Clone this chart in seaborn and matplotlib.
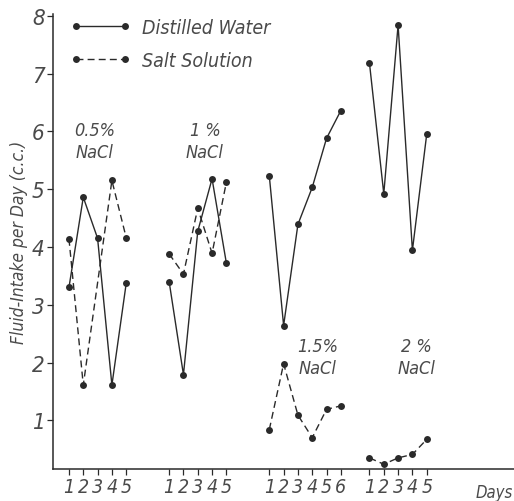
import numpy as np
import pandas as pd
import seaborn as sns
import matplotlib.pyplot as plt
from matplotlib.lines import Line2D
from matplotlib import transforms

# fluid intake per day (c.c.)
days_05 = [1, 2, 3, 4, 5]
water_05 = [3.30, 4.86, 4.15, 1.61, 3.37]
salt_05 = [4.14, 1.61, np.nan, 5.15, 4.16]

days_1 = [1, 2, 3, 4, 5]
water_1 = [3.40, 1.79, 4.27, 5.18, 3.72]
salt_1 = [3.88, 3.53, 4.67, 3.89, 5.12]

days_15 = [1, 2, 3, 4, 5, 6]
water_15 = [5.23, 2.64, 4.39, 5.03, 5.88, 6.36]
salt_15 = [0.84, 1.98, 1.09, 0.70, 1.19, 1.25]

days_2 = [1, 2, 3, 4, 5]
water_2 = [7.18, 4.92, 7.84, 3.94, 5.95]
salt_2 = [0.35, 0.24, 0.35, 0.41, 0.67]

group_names = ["0.5%\nNaCl", "1 %\nNaCl", "1.5%\nNaCl", "2 %\nNaCl"]
group_offsets = [0, 7, 14, 21]
series_names = ["Distilled Water", "Salt Solution"]

groups = [(days_05, water_05, salt_05), (days_1, water_1, salt_1),
          (days_15, water_15, salt_15), (days_2, water_2, salt_2)]

rows = []
for g, (days, water, salt) in enumerate(groups):
    for d, w, s in zip(days, water, salt):
        pos = d + group_offsets[g]
        rows.append({"group": g, "day": d, "pos": pos, "series": series_names[0], "value": w})
        rows.append({"group": g, "day": d, "pos": pos, "series": series_names[1], "value": s})
df = pd.DataFrame(rows).dropna()  # salt day 3 of 0.5% has no point

sns.set_style("white")
plt.rcParams['font.family'] = ['DejaVu Sans']
plt.rcParams['font.style'] = 'italic'
plt.rcParams['font.stretch'] = 'condensed'

ink = "#2a2a2a"
txt = "#4a4a4a"

fig = plt.figure(figsize=(5.14, 5.02), dpi=100)
ax = fig.add_axes([0.103, 0.064, 0.897, 0.906])

sns.lineplot(data=df, x="pos", y="value", style="series", units="group",
             estimator=None, sort=False, color=ink, linewidth=1.0,
             markers={series_names[0]: "o", series_names[1]: "o"},
             dashes={series_names[0]: "", series_names[1]: (5, 3)},
             markersize=5, markeredgewidth=0, legend=False, ax=ax)

# group labels
label_x = [2.8, 10.5, 18.4, 25.3]
label_y = [5.84, 5.84, 2.09, 2.09]
for name, lx, ly in zip(group_names, label_x, label_y):
    ax.text(lx, ly, name, ha="center", va="center", fontsize=13,
            color=txt, linespacing=1.3)

ax.set_xlim(-0.12, 32.1)
ax.set_ylim(0.16, 8.03)

ticks = []
ticklabels = []
for g, (days, water, salt) in enumerate(groups):
    for d in days:
        ticks.append(d + group_offsets[g])
        ticklabels.append(str(d))
ax.set_xticks(ticks)
ax.set_xticklabels(ticklabels, fontsize=14, color=txt)
ax.set_yticks(range(1, 9))
ax.set_yticklabels([str(i) for i in range(1, 9)], fontsize=16, color=txt)
ax.tick_params(axis="both", direction="out", length=4, width=0.9, color=ink,
               bottom=True, left=True, pad=2)

trans = transforms.blended_transform_factory(ax.transData, ax.transAxes)
ax.text(30.7, -0.03, "Days", transform=trans, ha="center", va="top",
        fontsize=12, color=txt)

ax.set_xlabel("")
ax.set_ylabel("Fluid-Intake per Day (c.c.)", fontsize=12.5, color=txt, labelpad=3)

for side in ["top", "right"]:
    ax.spines[side].set_visible(False)
for side in ["left", "bottom"]:
    ax.spines[side].set_color(ink)
    ax.spines[side].set_linewidth(1.1)

handles = [Line2D([], [], color=ink, lw=1.0, marker="o", markersize=5, markeredgewidth=0),
           Line2D([], [], color=ink, lw=1.0, ls=(0, (5, 3)), marker="o", markersize=5,
                  markeredgewidth=0)]
ax.legend(handles, series_names, loc="upper left", bbox_to_anchor=(0.0, 1.03),
          frameon=False, numpoints=2, handlelength=3.1, handletextpad=0.6,
          labelspacing=0.7, fontsize=14, labelcolor=txt)

fig.savefig("out.png", dpi=100)
